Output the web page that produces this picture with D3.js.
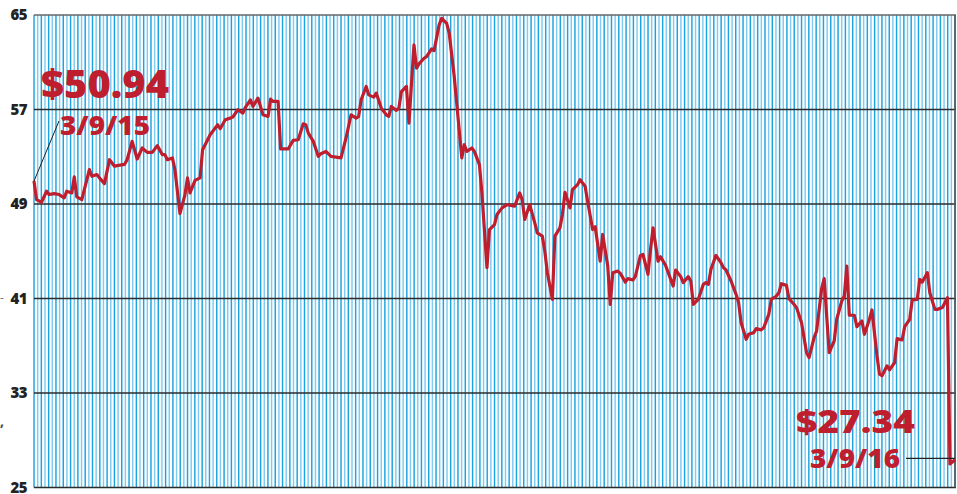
<!DOCTYPE html>
<html>
<head>
<meta charset="utf-8">
<script src="https://cdn.jsdelivr.net/npm/d3@7"></script>
<style>
  body { margin: 0; background: #fff; }
  svg { display: block; }
</style>
</head>
<body>
<svg id="chart" width="957" height="494"></svg>
<script>
// calendar days since 3/9/15 and closing price
const days = [0, 1, 3, 5, 6, 8, 10, 12, 13, 15, 16, 17, 19, 22, 23, 25, 26, 28, 30, 32,
  33, 36, 37, 39, 41, 43, 45, 47, 49, 51, 52, 53, 55, 56, 58, 60, 61, 62, 64, 66,
  67, 70, 73, 74, 76, 78, 79, 81, 83, 84, 86, 87, 89, 91, 93, 94, 95, 97, 98, 101,
  103, 105, 107, 108, 109, 111, 113, 114, 116, 118, 122, 124, 126, 128, 129, 130, 132, 133, 135, 136,
  138, 140, 141, 142, 144, 145, 146, 148, 149, 151, 152, 153, 155, 156, 158, 159, 161, 162, 164, 165,
  167, 170, 171, 172, 174, 175, 177, 178, 180, 181, 183, 184, 186, 188, 191, 193, 194, 195, 197, 199,
  200, 202, 203, 204, 206, 207, 209, 210, 211, 213, 214, 216, 217, 219, 220, 222, 223, 225, 226, 228,
  229, 230, 232, 233, 235, 236, 238, 239, 241, 242, 244, 245, 246, 248, 249, 251, 254, 255, 257, 258,
  260, 261, 262, 264, 266, 267, 268, 269, 271, 273, 274, 275, 277, 279, 280, 281, 283, 284, 286, 287,
  289, 290, 292, 293, 295, 296, 297, 299, 300, 302, 303, 305, 307, 308, 310, 311, 313, 314, 316, 318,
  319, 321, 322, 323, 324, 326, 327, 329, 330, 332, 333, 335, 336, 337, 339, 340, 342, 343, 345, 346,
  348, 349, 351, 352, 353, 355, 356, 358, 359, 361, 363, 364, 366];
const prices = [50.94, 49.37, 49.15, 50.08, 49.8, 49.88, 49.8, 49.52, 50.08, 49.94, 51.29, 49.6, 49.37, 51.91, 51.35, 51.49, 51.21, 50.73, 52.75, 52.19,
  52.25, 52.36, 52.75, 54.3, 52.81, 53.74, 53.37, 53.37, 53.94, 53.18, 53.18, 52.75, 52.9, 51.91, 48.19, 49.8, 51.21, 49.94, 51.0, 51.21,
  53.6, 54.87, 55.71, 55.37, 56.13, 56.27, 56.36, 56.98, 56.7, 57.17, 57.82, 57.26, 57.96, 56.55, 56.41, 57.88, 57.68, 57.68, 53.66, 53.66,
  54.39, 54.44, 55.79, 55.71, 55.0, 54.3, 53.03, 53.26, 53.45, 53.03, 52.9, 54.59, 56.55, 56.27, 56.41, 57.82, 58.95, 58.24, 58.05, 58.39,
  57.12, 56.55, 56.41, 57.26, 56.92, 57.12, 58.52, 58.95, 55.85, 62.47, 60.5, 60.86, 61.34, 61.48, 62.13, 61.99, 64.16, 64.72, 64.3, 63.45,
  59.79, 52.9, 54.02, 53.45, 53.74, 53.45, 52.33, 49.94, 43.61, 46.84, 47.26, 48.11, 48.67, 48.95, 48.81, 49.94, 49.37, 47.69, 48.95, 47.4,
  46.56, 46.28, 45.0, 43.18, 40.93, 46.28, 46.98, 48.11, 49.99, 48.67, 50.22, 50.64, 51.06, 50.5, 49.23, 46.84, 47.07, 44.16, 46.42, 43.75,
  40.51, 43.18, 43.32, 43.13, 42.39, 42.68, 42.56, 42.9, 44.65, 44.73, 43.04, 45.15, 46.98, 44.16, 44.53, 43.8, 42.05, 43.41, 42.85, 42.34,
  42.85, 42.48, 40.51, 40.93, 42.2, 42.34, 42.2, 43.46, 44.65, 44.03, 43.61, 43.41, 42.48, 41.35, 40.65, 38.96, 37.55, 37.97, 38.11, 38.45,
  38.34, 38.53, 39.66, 40.93, 41.21, 41.49, 42.25, 42.11, 40.99, 40.51, 40.23, 38.96, 36.42, 36.0, 37.69, 38.25, 41.83, 42.68, 36.42, 37.41,
  39.24, 40.79, 41.21, 43.75, 39.58, 39.58, 38.62, 39.1, 37.97, 39.24, 40.03, 36.14, 34.6, 34.46, 35.3, 34.96, 35.58, 37.6, 37.49, 38.62,
  39.24, 40.87, 40.93, 42.62, 42.39, 43.18, 41.49, 40.08, 40.08, 40.23, 41.07, 27.0, 27.34];
const yTicks = [25, 33, 41, 49, 57, 65];
const stripeCount = 252;
const startLabel = { price: "$50.94", date: "3/9/15" };
const endLabel = { price: "$27.34", date: "3/9/16" };

const data = days.map((d, i) => ({ day: d, price: prices[i] }));
const red = "#be1e2d";

const svg = d3.select("#chart");
const plotLeft = 34, plotRight = 955, plotTop = 15, plotBottom = 487.5;

const x = d3.scaleLinear().domain([0, 366]).range([plotLeft, plotRight]);
const y = d3.scaleLinear().domain([25, 65]).range([plotBottom, plotTop]);
const sx = d3.scaleLinear().domain([0, stripeCount]).range([plotLeft, plotRight]);

// vertical blue stripes
svg.append("g")
  .selectAll("rect")
  .data(d3.range(stripeCount + 1))
  .enter()
  .append("rect")
  .attr("x", d => sx(d) - 0.7)
  .attr("y", plotTop)
  .attr("width", 1.45)
  .attr("height", plotBottom - plotTop)
  .attr("fill", d => d % 2 === 0 ? "#1aa3df" : "#80cbef");

// horizontal grid lines
svg.append("g")
  .selectAll("line")
  .data(yTicks)
  .enter()
  .append("line")
  .attr("x1", plotLeft)
  .attr("x2", plotRight + 1)
  .attr("y1", d => y(d))
  .attr("y2", d => y(d))
  .attr("stroke", d => d === 65 ? "#666" : "#2b2b2b")
  .attr("stroke-width", 1.6);

svg.append("line")
  .attr("x1", plotRight).attr("x2", plotRight)
  .attr("y1", plotTop).attr("y2", plotBottom)
  .attr("stroke", "#555")
  .attr("stroke-width", 1.6);

// tick labels
svg.append("g")
  .selectAll("text")
  .data(yTicks)
  .enter()
  .append("text")
  .attr("x", 27)
  .attr("y", d => y(d))
  .attr("dy", "0.35em")
  .attr("text-anchor", "end")
  .attr("font-family", "'Open Sans', sans-serif")
  .attr("font-weight", 800)
  .attr("font-size", 15)
  .attr("letter-spacing", -0.6)
  .attr("fill", "#222")
  .text(d => d);

// cropped stray marks at the left margin
svg.append("text").attr("x", 0).attr("y", 302).attr("font-family", "'Open Sans', sans-serif")
  .attr("font-size", 12).attr("fill", "#777").text("-");
svg.append("text").attr("x", 0).attr("y", 426).attr("font-family", "'Open Sans', sans-serif")
  .attr("font-size", 14).attr("font-weight", 700).attr("fill", "#444").text(",");

// price line
const line = d3.line()
  .x(d => x(d.day))
  .y(d => y(d.price));

svg.append("path")
  .datum(data)
  .attr("fill", "none")
  .attr("stroke", red)
  .attr("stroke-width", 3.2)
  .attr("stroke-linejoin", "round")
  .attr("d", line);

// leader lines
const first = data[0], last = data[data.length - 1];
svg.append("line")
  .attr("x1", x(first.day)).attr("y1", y(first.price))
  .attr("x2", 59).attr("y2", 121)
  .attr("stroke", "#222").attr("stroke-width", 1);
svg.append("line")
  .attr("x1", 906).attr("y1", y(last.price) - 1.5)
  .attr("x2", x(last.day)).attr("y2", y(last.price) - 1.5)
  .attr("stroke", "#222").attr("stroke-width", 1.2);

// annotations
function label(tx, ty, size, width, txt) {
  svg.append("text")
    .attr("x", tx)
    .attr("y", ty)
    .attr("font-family", "'Open Sans', sans-serif")
    .attr("font-weight", 800)
    .attr("font-size", size)
    .attr("fill", red)
    .attr("textLength", width)
    .attr("lengthAdjust", "spacingAndGlyphs")
    .text(txt);
}
label(41, 98, 38, 128, startLabel.price);
label(60, 135, 26, 90, startLabel.date);
label(796, 433, 32, 119, endLabel.price);
label(810, 468, 26, 90, endLabel.date);
</script>
</body>
</html>
